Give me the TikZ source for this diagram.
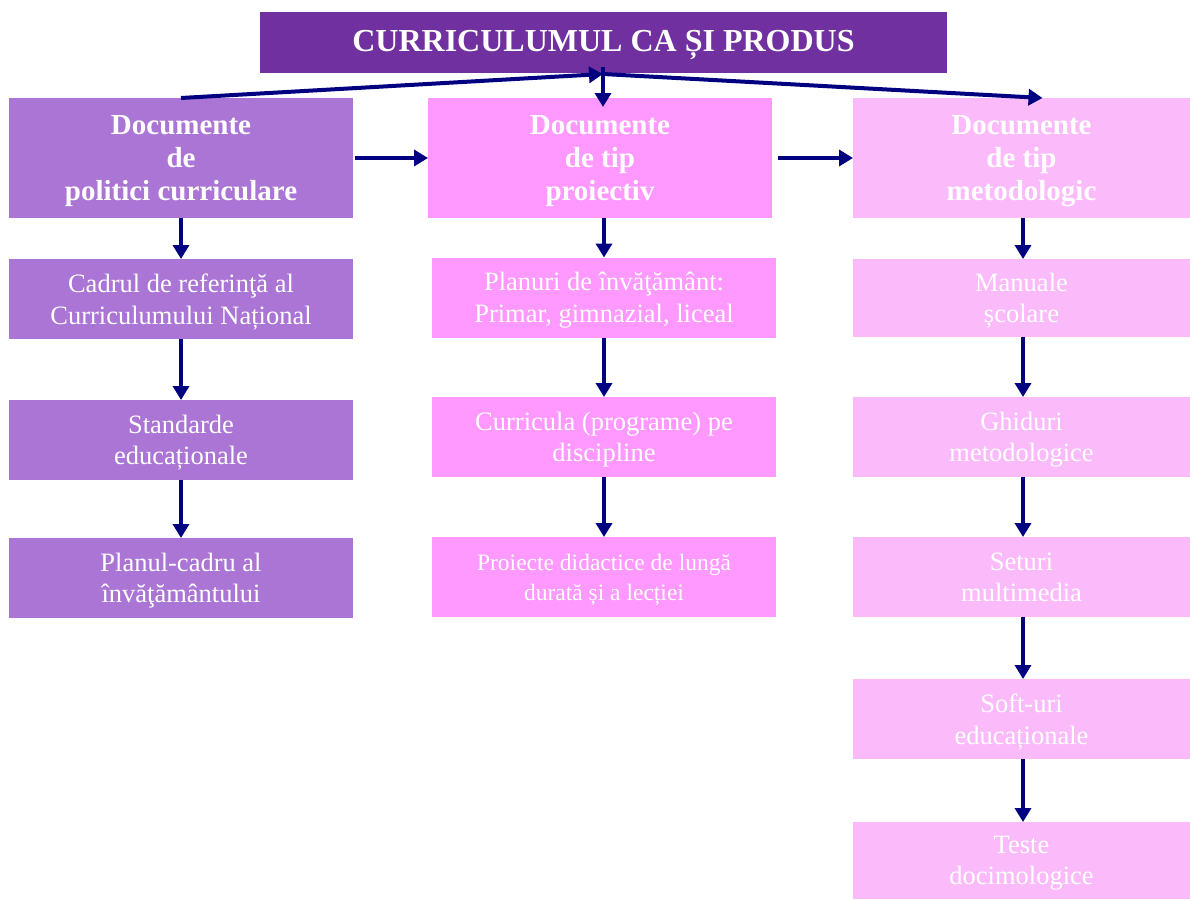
\documentclass[tikz,border=0pt]{standalone}
\usepackage{fontspec}
\setmainfont{Liberation Serif}
\usetikzlibrary{arrows.meta}
\definecolor{titlepurple}{HTML}{7030A0}
\definecolor{lavender}{HTML}{AA75D5}
\definecolor{pinkmid}{HTML}{FF99FF}
\definecolor{pinklight}{HTML}{FBBBFB}
\definecolor{arrownavy}{HTML}{000080}
\tikzset{
  box/.style={rectangle, inner sep=0pt, outer sep=0pt, text=white, align=center,
    text depth=0pt, font=\fontsize{26.5}{31.5}\selectfont},
  headbox/.style={box, minimum height=120pt, text depth=-6pt, font=\bfseries\fontsize{29}{33}\selectfont},
  colL/.style={box, fill=lavender, minimum width=344pt, minimum height=80pt},
  colM/.style={box, fill=pinkmid, minimum width=344pt, minimum height=80pt},
  colR/.style={box, fill=pinklight, minimum width=337pt, minimum height=78pt},
  link/.style={draw=arrownavy, line width=4pt, -{Triangle[width=16pt,length=14pt]}},
}
\begin{document}
\begin{tikzpicture}[x=1pt,y=-1pt]
\useasboundingbox (0,0) rectangle (1190,899);

% title
\node[box, fill=titlepurple, minimum width=687pt, minimum height=61pt, text depth=3pt,
  font=\bfseries\fontsize{32}{36}\selectfont] (title) at (603.5,42.5) {CURRICULUMUL CA ȘI PRODUS};

% header row
\node[headbox, fill=lavender, minimum width=344pt] (h1) at (181,158) {Documente\\de\\politici curriculare};
\node[headbox, fill=pinkmid, minimum width=344pt] (h2) at (600,158) {Documente\\de tip\\proiectiv};
\node[headbox, fill=pinklight, minimum width=337pt] (h3) at (1021.5,158) {Documente\\de tip\\metodologic};

% left column
\node[colL] (l1) at (181,299) {Cadrul de referinţă al\\Curriculumului Național};
\node[colL] (l2) at (181,440) {Standarde\\educaționale};
\node[colL] (l3) at (181,578) {Planul-cadru al\\învăţământului};

% middle column
\node[colM] (m1) at (604,297.5) {Planuri de învăţământ:\\Primar, gimnazial, liceal};
\node[colM] (m2) at (604,437) {Curricula (programe) pe\\discipline};
\node[colM, font=\fontsize{23.5}{30}\selectfont] (m3) at (604,577) {Proiecte didactice de lungă\\durată și a lecției};

% right column
\node[colR] (r1) at (1021.5,298) {Manuale\\școlare};
\node[colR, minimum height=80pt] (r2) at (1021.5,437) {Ghiduri\\metodologice};
\node[colR, minimum height=80pt] (r3) at (1021.5,577) {Seturi\\multimedia};
\node[colR, minimum height=80pt] (r4) at (1021.5,719) {Soft-uri\\educaționale};
\node[colR, minimum height=77pt] (r5) at (1021.5,860.5) {Teste\\docimologice};

% branching from the title
\coordinate (hub) at (603,74);
\draw[link] (h1.north) -- (hub);
\draw[link] (hub) -- ([xshift=21pt]h3.north);
\draw[link] ([yshift=6pt]title.south -| hub) -- ([yshift=-9pt]h2.north -| hub);

% links between headers
\draw[link] ([xshift=2pt]h1.east) -- (h2.west);
\draw[link] ([xshift=6pt]h2.east) -- (h3.west);

% column links
\draw[link] (h1.south) -- (l1.north);
\draw[link] (l1.south) -- (l2.north);
\draw[link] (l2.south) -- (l3.north);

\draw[link] (h2.south -| m1.north) -- (m1.north);
\draw[link] (m1.south) -- (m2.north);
\draw[link] (m2.south) -- (m3.north);

\draw[link] ([xshift=1.5pt]h3.south) -- ([xshift=1.5pt]r1.north);
\draw[link] ([xshift=1.5pt]r1.south) -- ([xshift=1.5pt]r2.north);
\draw[link] ([xshift=1.5pt]r2.south) -- ([xshift=1.5pt]r3.north);
\draw[link] ([xshift=1.5pt]r3.south) -- ([xshift=1.5pt]r4.north);
\draw[link] ([xshift=1.5pt]r4.south) -- ([xshift=1.5pt]r5.north);
\end{tikzpicture}
\end{document}
